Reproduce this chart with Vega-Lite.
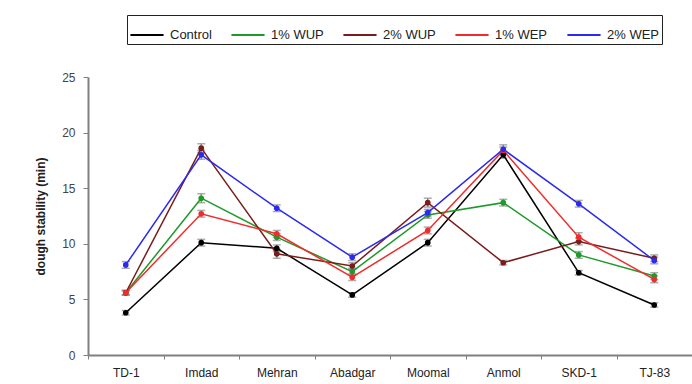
{
  "$schema": "https://vega.github.io/schema/vega-lite/v6.json",
  "width": 604,
  "height": 278,
  "autosize": {"type": "none"},
  "padding": {"left": 88, "top": 77, "right": 0, "bottom": 29},
  "background": "white",
  "data": {
    "values": [
      {"cultivar": "TD-1", "treatment": "Control", "value": 3.8, "err": 0.2},
      {"cultivar": "Imdad", "treatment": "Control", "value": 10.1, "err": 0.3},
      {"cultivar": "Mehran", "treatment": "Control", "value": 9.6, "err": 0.3},
      {"cultivar": "Abadgar", "treatment": "Control", "value": 5.4, "err": 0.2},
      {"cultivar": "Moomal", "treatment": "Control", "value": 10.1, "err": 0.3},
      {"cultivar": "Anmol", "treatment": "Control", "value": 18.0, "err": 0.3},
      {"cultivar": "SKD-1", "treatment": "Control", "value": 7.4, "err": 0.2},
      {"cultivar": "TJ-83", "treatment": "Control", "value": 4.5, "err": 0.2},
      {"cultivar": "TD-1", "treatment": "1% WUP", "value": 5.6, "err": 0.2},
      {"cultivar": "Imdad", "treatment": "1% WUP", "value": 14.1, "err": 0.4},
      {"cultivar": "Mehran", "treatment": "1% WUP", "value": 10.6, "err": 0.3},
      {"cultivar": "Abadgar", "treatment": "1% WUP", "value": 7.5, "err": 0.3},
      {"cultivar": "Moomal", "treatment": "1% WUP", "value": 12.6, "err": 0.3},
      {"cultivar": "Anmol", "treatment": "1% WUP", "value": 13.7, "err": 0.3},
      {"cultivar": "SKD-1", "treatment": "1% WUP", "value": 9.0, "err": 0.3},
      {"cultivar": "TJ-83", "treatment": "1% WUP", "value": 7.1, "err": 0.3},
      {"cultivar": "TD-1", "treatment": "2% WUP", "value": 5.6, "err": 0.2},
      {"cultivar": "Imdad", "treatment": "2% WUP", "value": 18.6, "err": 0.4},
      {"cultivar": "Mehran", "treatment": "2% WUP", "value": 9.1, "err": 0.4},
      {"cultivar": "Abadgar", "treatment": "2% WUP", "value": 8.0, "err": 0.3},
      {"cultivar": "Moomal", "treatment": "2% WUP", "value": 13.7, "err": 0.4},
      {"cultivar": "Anmol", "treatment": "2% WUP", "value": 8.3, "err": 0.2},
      {"cultivar": "SKD-1", "treatment": "2% WUP", "value": 10.2, "err": 0.3},
      {"cultivar": "TJ-83", "treatment": "2% WUP", "value": 8.7, "err": 0.3},
      {"cultivar": "TD-1", "treatment": "1% WEP", "value": 5.6, "err": 0.2},
      {"cultivar": "Imdad", "treatment": "1% WEP", "value": 12.7, "err": 0.3},
      {"cultivar": "Mehran", "treatment": "1% WEP", "value": 10.9, "err": 0.3},
      {"cultivar": "Abadgar", "treatment": "1% WEP", "value": 7.0, "err": 0.3},
      {"cultivar": "Moomal", "treatment": "1% WEP", "value": 11.2, "err": 0.3},
      {"cultivar": "Anmol", "treatment": "1% WEP", "value": 18.4, "err": 0.3},
      {"cultivar": "SKD-1", "treatment": "1% WEP", "value": 10.6, "err": 0.4},
      {"cultivar": "TJ-83", "treatment": "1% WEP", "value": 6.8, "err": 0.3},
      {"cultivar": "TD-1", "treatment": "2% WEP", "value": 8.1, "err": 0.3},
      {"cultivar": "Imdad", "treatment": "2% WEP", "value": 18.0, "err": 0.4},
      {"cultivar": "Mehran", "treatment": "2% WEP", "value": 13.2, "err": 0.3},
      {"cultivar": "Abadgar", "treatment": "2% WEP", "value": 8.8, "err": 0.3},
      {"cultivar": "Moomal", "treatment": "2% WEP", "value": 12.8, "err": 0.3},
      {"cultivar": "Anmol", "treatment": "2% WEP", "value": 18.5, "err": 0.4},
      {"cultivar": "SKD-1", "treatment": "2% WEP", "value": 13.6, "err": 0.3},
      {"cultivar": "TJ-83", "treatment": "2% WEP", "value": 8.5, "err": 0.3}
    ]
  },
  "encoding": {
    "x": {
      "field": "cultivar",
      "type": "nominal",
      "sort": ["TD-1", "Imdad", "Mehran", "Abadgar", "Moomal", "Anmol", "SKD-1", "TJ-83"],
      "scale": {"paddingInner": 0, "paddingOuter": 0},
      "axis": {
        "title": null,
        "labelAngle": 0,
        "labelFont": "Liberation Sans",
        "labelFontSize": 12,
        "labelColor": "#222",
        "labelPadding": 8,
        "domainColor": "#808080",
        "domainWidth": 2,
        "tickColor": "#808080",
        "tickSize": 4,
        "tickBand": "extent",
        "grid": false
      }
    },
    "y": {
      "field": "value",
      "type": "quantitative",
      "scale": {"domain": [0, 25]},
      "axis": {
        "title": "dough stability (min)",
        "titleFont": "Liberation Sans",
        "titleFontSize": 12,
        "titleFontWeight": "bold",
        "titleColor": "#222",
        "titlePadding": 14,
        "values": [0, 5, 10, 15, 20, 25],
        "labelFont": "Liberation Sans",
        "labelFontSize": 12,
        "labelColor": "#444",
        "labelPadding": 8,
        "domainColor": "#808080",
        "domainWidth": 2,
        "tickColor": "#808080",
        "tickSize": 5,
        "grid": false
      }
    }
  },
  "layer": [
    {
      "mark": {"type": "errorbar", "ticks": {"size": 8, "color": "#8a8a8a"}, "color": "#8a8a8a", "thickness": 1.5},
      "encoding": {
        "yError": {"field": "err"},
        "detail": {"field": "treatment"}
      }
    },
    {
      "mark": {"type": "line", "strokeWidth": 1.5, "point": {"filled": true, "size": 32}},
      "encoding": {
        "color": {
          "field": "treatment",
          "type": "nominal",
          "sort": ["Control", "1% WUP", "2% WUP", "1% WEP", "2% WEP"],
          "scale": {
            "domain": ["Control", "1% WUP", "2% WUP", "1% WEP", "2% WEP"],
            "range": ["#000000", "#1e9a2a", "#7a1c1c", "#f02c2c", "#2a2af0"]
          },
          "legend": {
            "title": null,
            "orient": "none",
            "legendX": 39,
            "legendY": -62,
            "direction": "horizontal",
            "columns": 5,
            "strokeColor": "#222",
            "padding": 2,
            "symbolType": "stroke",
            "symbolSize": 1100,
            "symbolStrokeWidth": 2,
            "labelFont": "Liberation Sans",
            "labelFontSize": 13,
            "labelOffset": 5,
            "labelColor": "#222",
            "columnPadding": 15,
            "labelLimit": 100
          }
        }
      }
    }
  ],
  "config": {
    "view": {"stroke": null}
  }
}
